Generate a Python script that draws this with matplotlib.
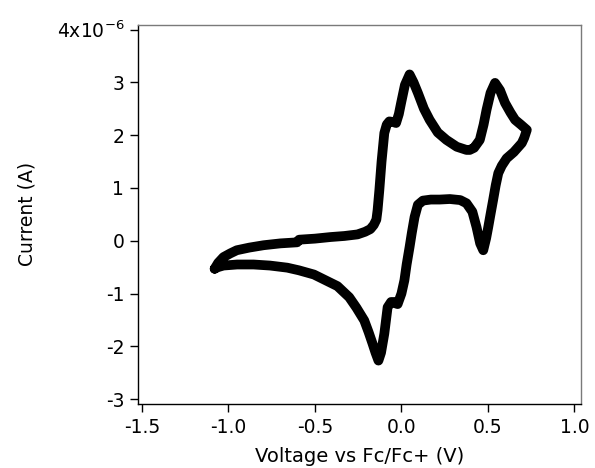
# Voltamperograma ciclico: corriente vs voltaje (Fc/Fc+)
import matplotlib
matplotlib.use('Agg')
import matplotlib.pyplot as plt

# Barrido de ida (desde el vertice izquierdo hacia +0.72 V)
v_ida = [-1.080, -1.060, -1.029, -0.990, -0.952, -0.880, -0.797, -0.700,
         -0.603, -0.592, -0.500, -0.410, -0.330, -0.254, -0.210, -0.180,
         -0.160, -0.145, -0.138, -0.128, -0.115, -0.099, -0.085, -0.070,
         -0.050, -0.031, -0.015, -0.002, 0.020, 0.047, 0.070, 0.095, 0.130,
         0.163, 0.210, 0.260, 0.320, 0.376, 0.395, 0.420, 0.453, 0.475,
         0.492, 0.515, 0.541, 0.570, 0.599, 0.630, 0.657, 0.690, 0.725]
i_ida = [-0.53, -0.42, -0.31, -0.24, -0.18, -0.13, -0.085, -0.05,
         -0.03, 0.02, 0.04, 0.07, 0.09, 0.12, 0.17, 0.22,
         0.30, 0.40, 0.58, 0.95, 1.50, 2.04, 2.20, 2.26,
         2.25, 2.23, 2.40, 2.61, 2.95, 3.15, 3.00, 2.80, 2.50,
         2.29, 2.05, 1.91, 1.78, 1.72, 1.72, 1.76, 1.91, 2.20,
         2.48, 2.80, 2.99, 2.85, 2.61, 2.43, 2.29, 2.20, 2.10]

# Barrido de regreso (desde +0.72 V hasta el vertice izquierdo)
v_reg = [0.725, 0.710, 0.696, 0.650, 0.608, 0.580, 0.560, 0.545, 0.530,
         0.515, 0.502, 0.490, 0.473, 0.455, 0.434, 0.410, 0.376, 0.340,
         0.280, 0.221, 0.170, 0.124, 0.095, 0.076, 0.060, 0.047, 0.030,
         0.017, 0.000, -0.022, -0.031, -0.045, -0.060, -0.080, -0.099,
         -0.118, -0.133, -0.150, -0.167, -0.190, -0.215, -0.260, -0.302,
         -0.370, -0.438, -0.506, -0.593, -0.660, -0.760, -0.855, -0.950,
         -1.029, -1.060, -1.080]
i_reg = [2.10, 1.95, 1.85, 1.68, 1.56, 1.42, 1.28, 1.05, 0.77,
         0.50, 0.26, 0.05, -0.18, -0.05, 0.26, 0.55, 0.71, 0.77,
         0.79, 0.78, 0.78, 0.76, 0.68, 0.45, 0.15, -0.12, -0.45,
         -0.75, -1.00, -1.20, -1.19, -1.16, -1.16, -1.26, -1.76,
         -2.12, -2.27, -2.12, -1.95, -1.73, -1.51, -1.27, -1.07,
         -0.86, -0.75, -0.64, -0.56, -0.51, -0.47, -0.45, -0.45,
         -0.47, -0.50, -0.53]

# Etiquetas de los ejes (corriente en unidades de 1e-6 A)
yticks = [-3, -2, -1, 0, 1, 2, 3, 4]
ytick_labels = ['-3', '-2', '-1', '0', '1', '2', '3', '4x10$^{\\mathrm{-6}}$']
xticks = [-1.5, -1.0, -0.5, 0.0, 0.5, 1.0]
xtick_labels = ['-1.5', '-1.0', '-0.5', '0.0', '0.5', '1.0']

fig = plt.figure(figsize=(5.95, 4.68), dpi=100)
ax = fig.add_axes([0.232, 0.137, 0.745, 0.810])

ax.plot(v_ida + v_reg, i_ida + i_reg, c='black', lw=7,
        solid_joinstyle='round', solid_capstyle='round')

ax.set_xlim(-1.523, 1.04)
ax.set_ylim(-3.09, 4.09)
ax.set_xticks(xticks)
ax.set_xticklabels(xtick_labels)
ax.set_yticks(yticks)
ax.set_yticklabels(ytick_labels)
ax.tick_params(direction='out', length=6, width=1, labelsize=13.5, pad=4)

for lado in ['left', 'bottom']:
    ax.spines[lado].set_color('black')
    ax.spines[lado].set_linewidth(1)
for lado in ['top', 'right']:
    ax.spines[lado].set_color('#7a7a7a')
    ax.spines[lado].set_linewidth(1)

ax.set_xlabel('Voltage vs Fc/Fc+ (V)', size=14)
ax.set_ylabel('Current (A)', size=13.5)
ax.xaxis.set_label_coords(0.5, -0.115)
ax.yaxis.set_label_coords(-0.23, 0.5)

fig.savefig('out.png', dpi=100)
